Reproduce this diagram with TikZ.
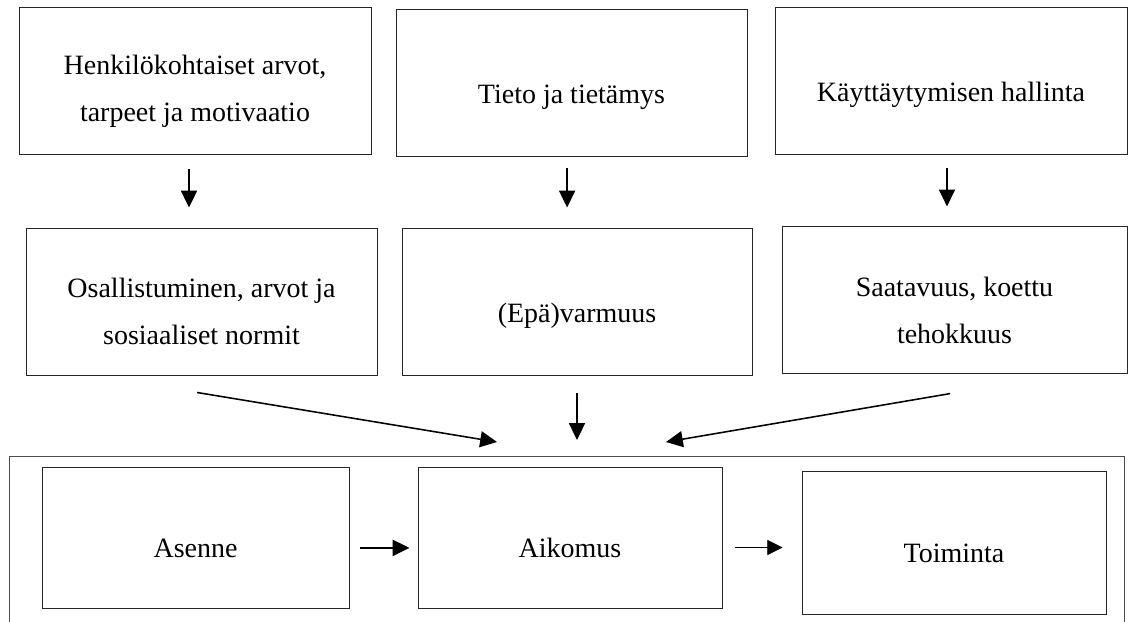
\documentclass[tikz,border=0pt]{standalone}
\usepackage{fontspec}
\setmainfont{Liberation Serif}
\usetikzlibrary{arrows.meta, positioning, calc}

\begin{document}
\begin{tikzpicture}[
    lift/.style={execute at begin node={\rule{0pt}{#1}}},
    factor/.style={draw=black!85, rectangle, minimum width=#1, minimum height=3.675cm, align=center, line width=0.7pt, font=\fontsize{19.9}{33.4}\selectfont, lift=1.2cm},
    factor/.default=8.8cm,
    stage/.style={draw=black!85, rectangle, minimum width=7.6cm, minimum height=#1, align=center, line width=0.7pt, font=\fontsize{19.9}{33.4}\selectfont, lift=1cm},
    stage/.default=3.525cm,
    flow/.style={-{Triangle[length=0.42cm, width=0.4cm]}, line width=1.1pt},
    thinflow/.style={-{Triangle[length=0.38cm, width=0.38cm]}, line width=0.6pt},
    frame/.style={draw=black!70, line width=0.7pt}
]
\useasboundingbox (0,0) rectangle (28.2,-15.525);

% --- Background factors ---
\node[factor, lift=2.175cm]         (henk)  at (4.875, -2.0125)  {Henkilökohtaiset arvot,\\tarpeet ja motivaatio};
\node[factor=8.775cm]               (tieto) at (14.2875, -2.0625) {Tieto ja tietämys};
\node[factor]                       (kaytt) at (23.775, -2.0125) {Käyttäytymisen hallinta};

% --- Mediating factors ---
\node[factor=8.775cm, lift=2.175cm] (osall) at (5.0375, -7.5375) {Osallistuminen, arvot ja\\sosiaaliset normit};
\node[factor=8.75cm]                (epav)  at (14.425, -7.5375) {(Epä)varmuus};
\node[factor=8.625cm, lift=2.175cm] (saat)  at (23.8625, -7.5)   {Saatavuus, koettu\\tehokkuus};

% --- Frame round the chain ---
\draw[frame] (0.225, -15.6) -- (0.225, -11.4) -- (28.1, -11.4) -- (28.1, -15.6);

% --- Chain ---
\node[stage={3.525cm}, minimum width=7.675cm] (asenne)   at (4.8875, -13.4375) {Asenne};
\node[stage]                                  (aikomus)  at (14.25, -13.4375)  {Aikomus};
\node[stage={3.575cm}]                        (toiminta) at (23.85, -13.5625)  {Toiminta};

% Targets on the frame
\coordinate (inL) at (12.425, -11.05);
\coordinate (inM) at (14.425, -11.0);
\coordinate (inR) at (16.65, -11.05);

% --- Arrows, top to middle ---
\draw[flow, shorten <=0.375cm, shorten >=0.5cm] ([xshift=-0.15cm]henk.south) -- ([xshift=-0.15cm]henk.south |- osall.north);
\draw[flow, shorten <=0.3cm, shorten >=0.5cm] ([xshift=-0.11cm]tieto.south) -- ([xshift=-0.11cm]tieto.south |- epav.north);
\draw[flow, shorten <=0.35cm, shorten >=0.49cm] ([xshift=-0.1cm]kaytt.south) -- ([xshift=-0.1cm]kaytt.south |- saat.north);

% --- Arrows, middle to chain ---
\draw[flow] ($(osall.south)+(-0.11,-0.425)$) -- (inL);
\draw[flow, shorten <=0.45cm] (epav.south) -- (inM);
\draw[flow] ($(saat.south)+(-0.11,-0.49)$) -- (inR);

% --- Arrows inside the chain ---
\draw[flow, line width=1.4pt, shorten <=0.275cm, shorten >=0.2cm] ([yshift=-0.26cm]asenne.east) -- ([yshift=-0.26cm]asenne.east -| aikomus.west);
\draw[thinflow, shorten <=0.3cm, shorten >=0.475cm] ([yshift=-0.25cm]aikomus.east) -- ([yshift=-0.25cm]aikomus.east -| toiminta.west);

\end{tikzpicture}
\end{document}
